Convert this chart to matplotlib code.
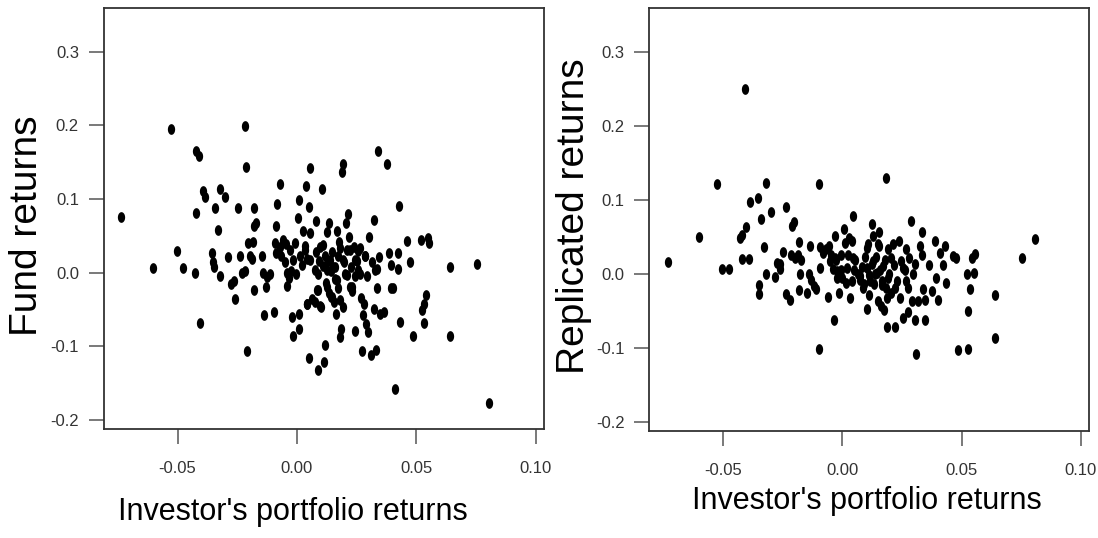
import numpy as np
import matplotlib
matplotlib.use("Agg")
import matplotlib.pyplot as plt
from matplotlib.path import Path

# investor's portfolio returns vs fund returns (left panel)
inv_fund = [-0.0735, -0.0604, -0.0527, -0.0503, -0.0478, -0.0426, -0.0423, -0.0423, -0.0411, -0.0404,
            -0.0392, -0.0386, -0.0355, -0.0352, -0.0348, -0.0342, -0.0331, -0.0322, -0.0321, -0.0302,
            -0.0287, -0.0278, -0.0262, -0.0259, -0.0246, -0.0237, -0.0232, -0.0217, -0.0217, -0.0214,
            -0.0209, -0.0206, -0.0197, -0.0188, -0.0185, -0.0182, -0.0178, -0.0178, -0.0173, -0.0148,
            -0.0144, -0.0138, -0.0130, -0.0126, -0.0114, -0.0096, -0.0093, -0.0089, -0.0086, -0.0083,
            -0.0071, -0.0071, -0.0067, -0.0059, -0.0049, -0.0044, -0.0040, -0.0034, -0.0025, -0.0019,
            -0.0015, -0.0010, -0.0004, 0.0004, 0.0010, 0.0010, 0.0010, 0.0012, 0.0019, 0.0025,
            0.0033, 0.0037, 0.0040, 0.0044, 0.0049, 0.0052, 0.0055, 0.0056, 0.0064, 0.0074,
            0.0078, 0.0081, 0.0084, 0.0089, 0.0089, 0.0093, 0.0099, 0.0104, 0.0108, 0.0111,
            0.0114, 0.0117, 0.0120, 0.0126, 0.0129, 0.0133, 0.0136, 0.0141, 0.0143, 0.0148,
            0.0152, 0.0155, 0.0160, 0.0163, 0.0167, 0.0170, 0.0173, 0.0178, 0.0182, 0.0185,
            0.0188, 0.0191, 0.0192, 0.0195, 0.0200, 0.0204, 0.0209, 0.0214, 0.0217, 0.0222,
            0.0226, 0.0232, 0.0237, 0.0241, 0.0244, 0.0251, 0.0256, 0.0262, 0.0266, 0.0274,
            0.0277, 0.0281, 0.0286, 0.0288, 0.0296, 0.0303, 0.0311, 0.0315, 0.0321, 0.0324,
            0.0330, 0.0333, 0.0336, 0.0340, 0.0343, 0.0348, 0.0365, 0.0377, 0.0385, 0.0392,
            0.0395, 0.0404, 0.0410, 0.0425, 0.0425, 0.0426, 0.0433, 0.0459, 0.0473, 0.0484,
            0.0518, 0.0525, 0.0530, 0.0533, 0.0540, 0.0547, 0.0552, 0.0641, 0.0641, 0.0754,
            0.0805,
            0.0096, 0.0117, 0.0138, 0.0127, 0.0159, 0.0180, 0.0194, 0.0222, 0.0243, 0.0264,
            0.0285, 0.0257, 0.0208, 0.0166, 0.0124, 0.0145, 0.0180, 0.0229, 0.0292, 0.0327,
            -0.0029, -0.0057, -0.0015, -0.0043, 0.0054, 0.0075, 0.0033, 0.0089, 0.0040, 0.0096]
fund = [0.075, 0.006, 0.195, 0.030, 0.006, 0.000, 0.081, 0.165, 0.158, -0.069,
        0.111, 0.103, 0.026, 0.014, 0.008, 0.088, 0.058, -0.005, 0.113, 0.103,
        0.021, -0.015, -0.011, -0.036, 0.088, 0.023, 0.000, 0.002, 0.199, 0.144,
        -0.106, 0.040, 0.023, 0.018, 0.041, -0.023, 0.088, 0.063, 0.068, 0.023,
        0.000, -0.058, -0.020, -0.006, -0.002, -0.054, 0.040, 0.064, 0.026, 0.093,
        0.121, 0.035, 0.022, 0.044, 0.015, 0.039, -0.018, -0.007, 0.002, -0.060,
        -0.086, 0.040, -0.002, 0.074, 0.099, -0.056, -0.077, 0.022, 0.010, 0.056,
        0.036, 0.117, -0.042, 0.019, 0.089, -0.116, 0.142, 0.054, -0.036, -0.040,
        0.028, 0.070, -0.024, -0.133, -0.002, 0.016, -0.047, 0.113, 0.037, 0.009,
        -0.121, -0.098, -0.014, 0.055, 0.016, -0.028, 0.068, 0.002, -0.033, 0.028,
        0.007, -0.040, -0.009, -0.056, 0.057, 0.023, -0.021, 0.042, -0.088, -0.077,
        0.137, 0.147, -0.047, 0.014, -0.002, 0.067, 0.031, 0.079, 0.049, -0.019,
        0.007, -0.025, 0.035, -0.080, -0.005, 0.016, 0.030, -0.002, -0.035, -0.107,
        -0.058, -0.043, 0.023, -0.070, -0.081, 0.049, -0.112, 0.014, -0.049, 0.072,
        -0.105, 0.005, -0.021, 0.165, 0.021, -0.056, -0.053, 0.147, 0.026, -0.021,
        0.011, -0.021, -0.158, 0.026, 0.005, 0.091, -0.067, 0.043, 0.015, -0.086,
        0.044, -0.051, -0.068, -0.042, -0.030, 0.047, 0.040, 0.007, -0.086, 0.012,
        -0.177,
        0.035, 0.022, 0.017, 0.003, 0.008, 0.033, 0.017, 0.031, 0.017, 0.033,
        0.022, 0.003, -0.003, -0.010, -0.019, -0.033, -0.037, -0.019, -0.005, 0.003,
        0.031, 0.042, 0.017, -0.001, 0.017, 0.003, 0.031, -0.024, -0.042, -0.046]

# investor's portfolio returns vs replicated returns (right panel)
inv_repl = [-0.0732, -0.0602, -0.0525, -0.0503, -0.0473, -0.0429, -0.0422, -0.0419, -0.0407, -0.0404,
            -0.0389, -0.0385, -0.0352, -0.0348, -0.0348, -0.0340, -0.0330, -0.0321, -0.0321, -0.0300,
            -0.0284, -0.0274, -0.0259, -0.0259, -0.0247, -0.0237, -0.0237, -0.0217, -0.0214, -0.0210,
            -0.0204, -0.0200, -0.0185, -0.0182, -0.0182, -0.0178, -0.0173, -0.0148, -0.0141, -0.0136,
            -0.0129, -0.0118, -0.0111, -0.0096, -0.0096, -0.0092, -0.0081, -0.0070, -0.0059, -0.0056,
            -0.0047, -0.0040, -0.0034, -0.0030, -0.0025, -0.0022, -0.0015, -0.0007, -0.0004, 0.0007,
            0.0010, 0.0015, 0.0022, 0.0030, 0.0034, 0.0040, 0.0044, 0.0049, 0.0055, 0.0064,
            0.0074, 0.0081, 0.0089, 0.0096, 0.0104, 0.0108, 0.0111, 0.0114, 0.0123, 0.0126,
            0.0129, 0.0133, 0.0138, 0.0141, 0.0148, 0.0152, 0.0155, 0.0158, 0.0163, 0.0167,
            0.0173, 0.0178, 0.0182, 0.0185, 0.0188, 0.0192, 0.0197, 0.0203, 0.0212, 0.0217,
            0.0222, 0.0229, 0.0237, 0.0241, 0.0247, 0.0256, 0.0262, 0.0266, 0.0274, 0.0277,
            0.0281, 0.0288, 0.0291, 0.0296, 0.0303, 0.0306, 0.0311, 0.0318, 0.0325, 0.0333,
            0.0336, 0.0340, 0.0345, 0.0345, 0.0365, 0.0377, 0.0388, 0.0392, 0.0402, 0.0410,
            0.0422, 0.0429, 0.0433, 0.0463, 0.0478, 0.0484, 0.0521, 0.0525, 0.0528, 0.0537,
            0.0544, 0.0552, 0.0558, 0.0641, 0.0641, 0.0754, 0.0809,
            -0.0080, -0.0052, -0.0024, 0.0018, 0.0046, 0.0074, 0.0102, 0.0116, 0.0130, 0.0144,
            0.0165, 0.0172, 0.0193, 0.0206, 0.0220, 0.0102, 0.0151, -0.0003, 0.0039, -0.0031,
            0.0255, 0.0269, 0.0088, 0.0186, -0.0094]
replicated = [0.016, 0.050, 0.122, 0.006, 0.006, 0.049, 0.053, 0.020, 0.250, 0.064,
              0.020, 0.097, 0.103, -0.015, -0.027, 0.074, 0.036, 0.123, 0.000, 0.084,
              -0.004, 0.015, 0.007, 0.014, 0.030, 0.091, -0.027, -0.036, 0.026, 0.065,
              0.070, 0.021, 0.026, 0.043, -0.022, 0.000, 0.019, -0.026, 0.000, 0.037,
              -0.008, -0.016, -0.021, 0.121, -0.102, 0.036, 0.028, 0.033, -0.031, 0.037,
              0.026, 0.007, -0.063, 0.051, 0.019, -0.005, -0.026, 0.026, 0.005, 0.060,
              0.042, -0.012, 0.026, 0.049, -0.032, 0.044, 0.078, 0.005, 0.019, 0.000,
              -0.008, 0.009, -0.014, 0.023, -0.047, 0.041, -0.002, -0.028, 0.014, 0.067,
              0.051, -0.014, 0.000, 0.023, -0.037, 0.056, 0.037, 0.005, -0.044, -0.009,
              -0.049, 0.019, 0.130, -0.019, -0.072, 0.033, 0.000, -0.026, 0.040, 0.012,
              -0.072, -0.009, 0.044, -0.033, 0.018, -0.060, 0.005, 0.033, -0.051, -0.019,
              0.021, 0.071, -0.037, 0.000, -0.063, 0.014, -0.108, -0.037, 0.037, 0.056,
              0.026, -0.021, -0.063, -0.035, 0.012, -0.023, 0.045, -0.005, -0.036, 0.028,
              0.012, 0.038, -0.013, 0.024, 0.022, -0.103, 0.000, -0.102, -0.050, -0.020,
              0.022, 0.001, 0.027, -0.029, -0.087, 0.022, 0.047,
              0.031, 0.017, 0.004, 0.008, 0.022, -0.003, 0.008, -0.010, 0.017, 0.001,
              -0.015, 0.010, -0.006, 0.022, -0.019, 0.035, 0.040, -0.006, -0.010, 0.022,
              0.008, -0.010, -0.019, -0.033, 0.008]

x_ticks = [-0.05, 0.00, 0.05, 0.10]
y_ticks = [-0.2, -0.1, 0.0, 0.1, 0.2, 0.3]
xlabel = "Investor's portfolio returns"
ylabels = ["Fund returns", "Replicated returns"]

fonts = ["Liberation Sans", "DejaVu Sans"]

# the dots in the picture are a bit taller than wide
t = np.linspace(0, 2 * np.pi, 25)
dot = Path(np.column_stack([0.68 * np.cos(t), np.sin(t)]), closed=True)

fig = plt.figure(figsize=(10.98, 5.38), dpi=100)
ax1 = fig.add_axes([0.0947, 0.2026, 0.4007, 0.7825])
ax2 = fig.add_axes([0.5915, 0.1989, 0.4003, 0.7862])

panels = [(ax1, inv_fund, fund, ylabels[0], 0.43, -0.162, -0.133, 0.482),
          (ax2, inv_repl, replicated, ylabels[1], 0.495, -0.130, -0.131, 0.507)]

for ax, xs, ys, ylab, xl_x, xl_y, yl_x, yl_y in panels:
    ax.scatter(xs, ys, s=60, c="black", marker=dot, linewidths=0)
    ax.set_xlim(-0.0808, 0.1034)
    ax.set_ylim(-0.2125, 0.3595)
    ax.set_xticks(x_ticks)
    ax.set_xticklabels(["%.2f" % v for v in x_ticks])
    ax.set_yticks(y_ticks)
    ax.set_yticklabels(["%.1f" % v for v in y_ticks])
    ax.tick_params(direction="out", length=11, width=1.1, color="#555555", labelsize=12, pad=7)
    ax.tick_params(axis="x", pad=12)
    for lab in ax.get_xticklabels() + ax.get_yticklabels():
        lab.set_family(fonts)
        lab.set_color("#333333")
    for sp in ax.spines.values():
        sp.set_linewidth(1.3)
        sp.set_color("#333333")
    ax.set_xlabel(xlabel, fontsize=22, family=fonts)
    ax.xaxis.set_label_coords(xl_x, xl_y)
    ax.set_ylabel(ylab, fontsize=28, family=fonts)
    ax.yaxis.set_label_coords(yl_x, yl_y)

fig.savefig("out.png", dpi=100)
